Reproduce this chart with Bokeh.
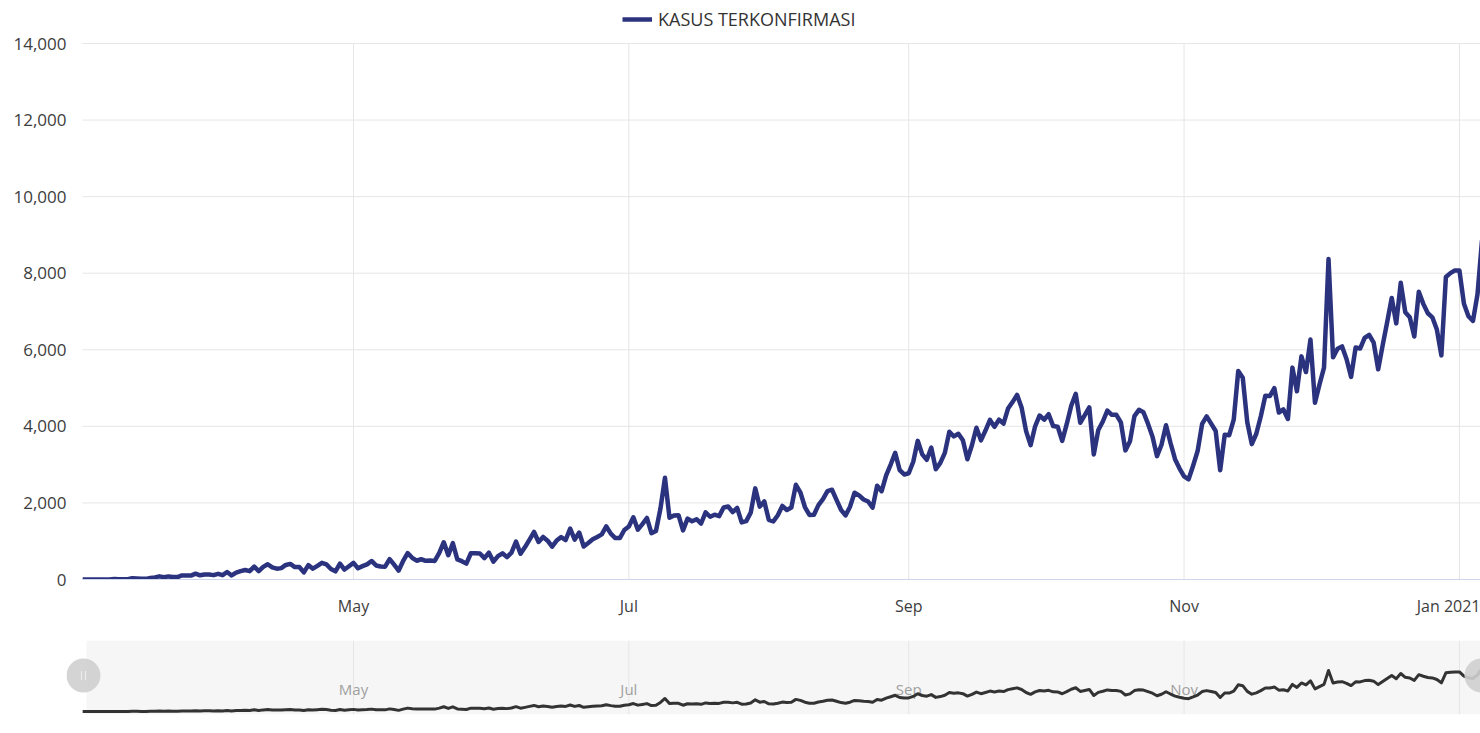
import numpy as np
import pandas as pd
from bokeh.plotting import figure
from bokeh.layouts import column
from bokeh.models import (FixedTicker, NumeralTickFormatter, DatetimeTickFormatter, Legend,
                          LegendItem, BoxAnnotation, Span, ColumnDataSource, Range1d)
from bokeh.core.properties import value
from bokeh.embed import file_html
from bokeh.resources import INLINE

FONT = "Open Sans"
NAVY = "#2b337f"

# ---- data: daily confirmed cases (Indonesia) ----
start_date = "2020-03-02"
mar = [2, 0, 0, 0, 2, 0, 2, 13, 8, 7, 7, 35, 27, 21, 17, 38, 55, 82, 60, 81, 64, 65, 107, 105, 103,
       153, 109, 130, 129, 114]
apr = [149, 113, 196, 106, 181, 218, 247, 218, 337, 219, 330, 399, 316, 282, 297, 380, 407, 325, 327,
       185, 375, 283, 357, 436, 396, 275, 214, 415, 260, 347]
may = [433, 292, 349, 395, 484, 367, 338, 336, 533, 387, 233, 484, 689, 568, 490, 529, 489, 496, 486,
       693, 973, 634, 949, 526, 479, 415, 686, 687, 678, 557, 700]
jun = [467, 609, 684, 585, 703, 993, 672, 847, 1043, 1241, 979, 1111, 1014, 857, 1017, 1106, 1031, 1331,
       1041, 1226, 862, 954, 1051, 1113, 1178, 1385, 1198, 1082, 1082, 1293]
jul = [1385, 1624, 1301, 1447, 1607, 1209, 1268, 1853, 2657, 1611, 1671, 1681, 1282, 1591, 1522, 1574,
       1462, 1752, 1639, 1693, 1655, 1882, 1906, 1761, 1868, 1492, 1525, 1748, 2381, 1904, 2040]
aug = [1560, 1519, 1679, 1922, 1815, 1882, 2473, 2277, 1893, 1687, 1693, 1942, 2098, 2307, 2345, 2081,
       1821, 1673, 1902, 2266, 2197, 2090, 2037, 1877, 2447, 2306, 2719, 3003, 3308, 2858, 2743]
sep = [2775, 3075, 3622, 3269, 3128, 3444, 2880, 3046, 3307, 3861, 3737, 3806, 3636, 3141, 3507, 3963,
       3635, 3891, 4168, 3989, 4176, 4071, 4465, 4634, 4823, 4494, 3874, 3509, 4002, 4284]
oct_ = [4174, 4317, 4007, 3992, 3622, 4056, 4538, 4850, 4094, 4294, 4497, 3267, 3906, 4127, 4411, 4301,
        4301, 4105, 3373, 3602, 4267, 4432, 4369, 4070, 3732, 3222, 3520, 4029, 3565, 3143, 2897]
nov = [2696, 2618, 2973, 3356, 4065, 4262, 4070, 3880, 2853, 3779, 3770, 4173, 5444, 5272, 4106, 3535,
       3807, 4265, 4798, 4792, 4998, 4360, 4442, 4192, 5534, 4917, 5828, 5418, 6267, 4617]
dec = [5092, 5533, 8369, 5803, 6027, 6089, 5754, 5292, 6058, 6033, 6310, 6388, 6189, 5489, 6120, 6725,
       7354, 6689, 7751, 6982, 6848, 6347, 7514, 7199, 6954, 6848, 6528, 5854, 7903, 8002, 8074]
jan = [8072, 7203, 6877, 6753, 7445, 8854]

series_name = "KASUS TERKONFIRMASI"
y_ticks = [0, 2000, 4000, 6000, 8000, 10000, 12000, 14000]
x_tick_dates = ["2020-05-01", "2020-07-01", "2020-09-01", "2020-11-01", "2021-01-01"]
x_tick_labels = ["May", "Jul", "Sep", "Nov", "Jan 2021"]
nav_tick_labels = ["May", "Jul", "Sep", "Nov"]

cases = mar + apr + may + jun + jul + aug + sep + oct_ + nov + dec + jan
dates = pd.date_range(start_date, periods=len(cases), freq="D")
src = ColumnDataSource(dict(date=dates, cases=cases))


def ms(t):
    return pd.Timestamp(t).value / 1e6


def days(px):
    return pd.Timedelta(days=px / PX_PER_DAY)


# ---- layout constants ----
PX_PER_DAY = 4.514
FRAME_LEFT = 66            # both frames start here (Bokeh aligns them in a column)
DATA_LEFT = 86             # where the plotted period begins
x_start = pd.Timestamp("2020-05-01") - days(353 - DATA_LEFT)
range_start = x_start - days(DATA_LEFT - FRAME_LEFT)
x_end = x_start + days(1480 - DATA_LEFT)
grid_start = x_start - days(4)
Y_TOP = 14000
PX_PER_UNIT = 536 / Y_TOP
y_end = Y_TOP + 43 / PX_PER_UNIT

tick_ms = [ms(d) for d in x_tick_dates]

# ---- main chart ----
p = figure(width=1480, height=625, x_axis_type="datetime", output_backend="svg",
           toolbar_location=None, x_range=Range1d(ms(range_start), ms(x_end)),
           y_range=Range1d(0, y_end), min_border_left=FRAME_LEFT, min_border_right=0,
           min_border_top=0, min_border_bottom=46)
p.outline_line_color = None
p.background_fill_color = "white"
p.border_fill_color = "white"
p.grid.visible = False

# grid lines drawn as segments so they span only the plotted area
p.segment(x0=[ms(grid_start)] * len(y_ticks), y0=y_ticks, x1=[ms(x_end)] * len(y_ticks),
          y1=y_ticks, line_color="#e6e6e6", line_width=1)
p.segment(x0=tick_ms, y0=[0] * len(tick_ms), x1=tick_ms, y1=[Y_TOP] * len(tick_ms),
          line_color="#e6e6e6", line_width=1)

r = p.line("date", "cases", source=src, line_color=NAVY, line_width=4.5, line_join="round")

p.yaxis.ticker = FixedTicker(ticks=y_ticks)
p.yaxis.formatter = NumeralTickFormatter(format="0,0")
p.yaxis.axis_line_color = None
p.yaxis.major_tick_line_color = None
p.yaxis.minor_tick_line_color = None
p.yaxis.major_tick_out = 0
p.yaxis.major_label_standoff = 0
p.yaxis.major_label_text_font = FONT
p.yaxis.major_label_text_font_size = "17px"
p.yaxis.major_label_text_color = "#3d3d3d"

p.xaxis.ticker = FixedTicker(ticks=tick_ms)
p.xaxis.formatter = DatetimeTickFormatter(months="%b", days="%b", years="%b %Y")
p.xaxis.major_label_overrides = {t: lab for t, lab in zip(tick_ms, x_tick_labels)}
p.xaxis.bounds = (ms(grid_start), ms(x_end))
p.xaxis.axis_line_color = "#ccd6eb"
p.xaxis.axis_line_width = 1
p.xaxis.major_tick_line_color = None
p.xaxis.minor_tick_line_color = None
p.xaxis.major_tick_out = 0
p.xaxis.major_label_standoff = 15
p.xaxis.major_label_text_font = FONT
p.xaxis.major_label_text_font_size = "16px"
p.xaxis.major_label_text_color = "#3d3d3d"

legend = Legend(items=[LegendItem(label=series_name, renderers=[r])],
                location=(622 - FRAME_LEFT, 548),
                orientation="horizontal", padding=0, margin=0, glyph_width=30, glyph_height=16,
                label_standoff=6, label_text_font=FONT, label_text_font_size="18px",
                label_text_color="#333333", border_line_color=None, background_fill_alpha=0)
p.add_layout(legend)

# ---- navigator ----
NAV_PX_PER_UNIT = 0.0049
nav_y0 = -3 / NAV_PX_PER_UNIT
nav_y1 = 71 / NAV_PX_PER_UNIT

nav = figure(width=1480, height=100, x_axis_type="datetime", output_backend="svg",
             toolbar_location=None, x_range=Range1d(ms(range_start), ms(x_end)),
             y_range=Range1d(nav_y0, nav_y1), min_border_left=FRAME_LEFT, min_border_right=0,
             min_border_top=15, min_border_bottom=11,
             x_axis_location=None, y_axis_location=None)
nav.outline_line_color = None
nav.grid.visible = False

nav.add_layout(BoxAnnotation(left=ms(x_start), fill_color="#f6f6f6", fill_alpha=1,
                             line_color=None, level="underlay"))
for t in tick_ms:
    nav.add_layout(Span(location=t, dimension="height", line_color="#e6e6e6",
                        line_width=1, level="underlay"))

nav.text(x=tick_ms[:len(nav_tick_labels)], y=[23 / NAV_PX_PER_UNIT] * len(nav_tick_labels),
         text=nav_tick_labels, text_align="center", text_baseline="middle",
         text_color="#a0a0a0", text_font=value(FONT), text_font_size="15px")

nav.line("date", "cases", source=src, line_color="#333333", line_width=3, line_join="round")

# navigator handles with grip marks
handle_y = 36 / NAV_PX_PER_UNIT
handle_x = [ms(x_start - days(3)), ms(x_start + days(1395))]
nav.scatter(x=handle_x, y=[handle_y] * 2, size=34, marker="circle",
            fill_color="#cfcfcf", fill_alpha=0.9, line_color=None)
grip_x = [ms(x_start - days(5)), ms(x_start - days(1))]
nav.scatter(x=grip_x, y=[handle_y] * 2, size=9, marker="dash", angle=np.pi / 2,
            line_color="#ececec", line_width=1.2)

layout = column(p, nav, spacing=0)
open("out.html", "w").write(file_html(layout, INLINE))
